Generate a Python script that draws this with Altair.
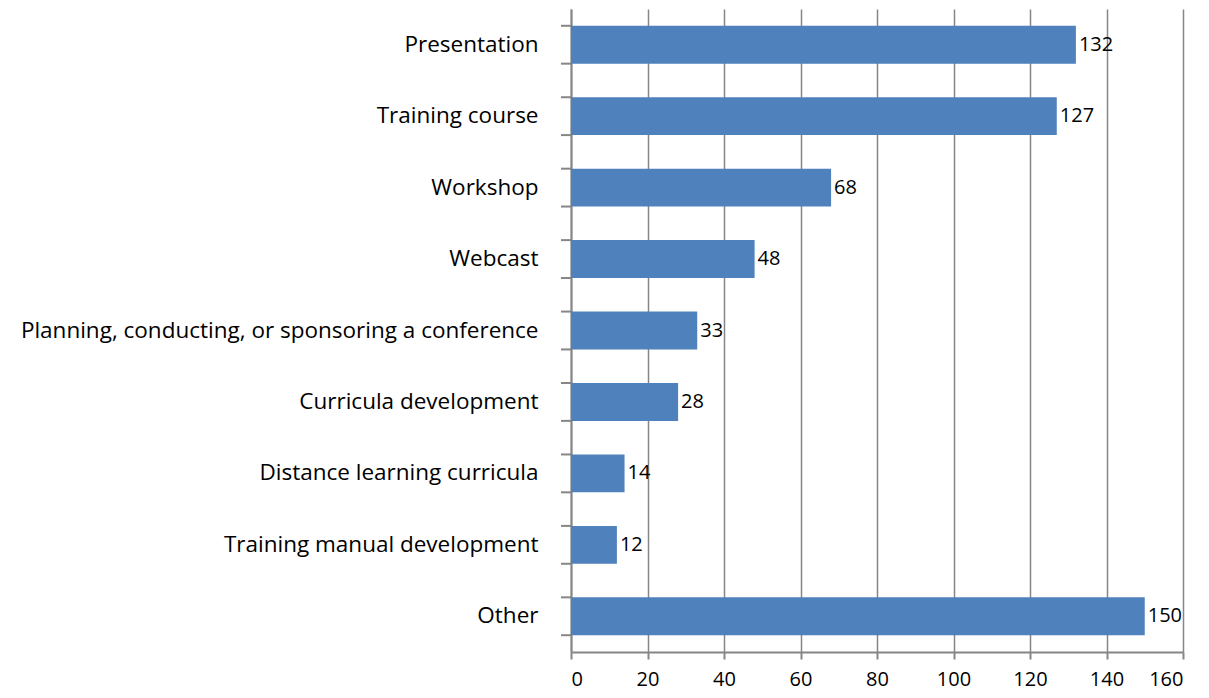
import altair as alt
import pandas as pd

categories = [
    "Presentation",
    "Training course",
    "Workshop",
    "Webcast",
    "Planning, conducting, or sponsoring a conference",
    "Curricula development",
    "Distance learning curricula",
    "Training manual development",
    "Other ",
]
values = [132, 127, 68, 48, 33, 28, 14, 12, 150]
x_ticks = [0, 20, 40, 60, 80, 100, 120, 140, 160]

df = pd.DataFrame({"cat": categories, "val": values})

FONT = "Open Sans"
GRAY = "#868686"
W, H = 612, 643

y_scale = alt.Scale(domain=categories, paddingInner=0.47, paddingOuter=0.235)

bars = alt.Chart(df).mark_bar(color="#4F81BD").encode(
    x=alt.X("val:Q", scale=alt.Scale(domain=[0, 160], nice=False),
            axis=alt.Axis(values=x_ticks, title=None, grid=True, gridColor=GRAY,
                          gridWidth=1.5, domainColor=GRAY, domainWidth=2,
                          tickColor=GRAY, tickWidth=2, tickSize=7,
                          labelFont=FONT, labelFontSize=20, labelColor="black",
                          labelPadding=10)),
    y=alt.Y("cat:N", scale=y_scale, sort=categories,
            axis=alt.Axis(title=None, ticks=False, domainColor=GRAY, domainWidth=2,
                          labelFont=FONT, labelFontSize=22.5, labelColor="black",
                          labelPadding=33, labelLimit=700)),
)

texts = alt.Chart(df).mark_text(align="left", baseline="middle", dx=3,
                                font=FONT, fontSize=20, color="black").encode(
    x="val:Q",
    y=alt.Y("cat:N", scale=y_scale, sort=categories),
    text="val:Q",
)

ticks_top = alt.Chart(df).mark_rule(color=GRAY, strokeWidth=2).encode(
    y=alt.Y("cat:N", scale=y_scale, sort=categories, bandPosition=0),
    x=alt.value(-10), x2=alt.value(0),
)
ticks_bot = alt.Chart(df).mark_rule(color=GRAY, strokeWidth=2).encode(
    y=alt.Y("cat:N", scale=y_scale, sort=categories, bandPosition=1),
    x=alt.value(-10), x2=alt.value(0),
)

chart = alt.layer(bars, texts, ticks_top, ticks_bot).properties(
    width=W, height=H,
    autosize=alt.AutoSizeParams(type="none"),
    padding={"left": 563, "top": 1, "right": 18, "bottom": 38},
).configure_view(stroke=None)

chart.save("out.html", embed_options={"renderer": "svg", "actions": False})
